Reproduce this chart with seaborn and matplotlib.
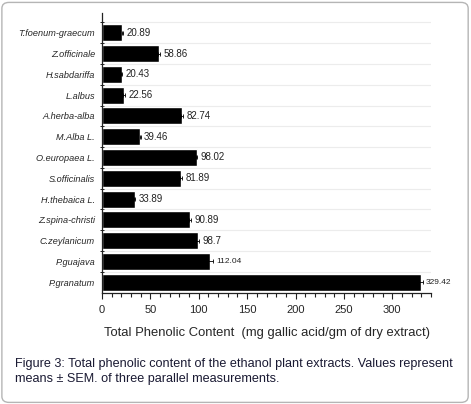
import numpy as np
import matplotlib
matplotlib.use("Agg")
import matplotlib.pyplot as plt
import seaborn as sns
from matplotlib.patches import FancyBboxPatch
from matplotlib.ticker import MultipleLocator

# Plant extracts and their total phenolic content
plants = ["T.foenum-graecum", "Z.officinale", "H.sabdariffa", "L.albus",
          "A.herba-alba", "M.Alba L.", "O.europaea L.", "S.officinalis",
          "H.thebaica L.", "Z.spina-christi", "C.zeylanicum", "P.guajava",
          "P.granatum"]
phenolic = [20.89, 58.86, 20.43, 22.56, 82.74, 39.46, 98.02, 81.89,
            33.89, 90.89, 98.7, 112.04, 329.42]
sem = [0.5, 0.8, 0.4, 1.2, 0.8, 0.5, 0.6, 1.0, 0.5, 1.5, 2.0, 2.5, 2.0]
value_labels = ["20.89", "58.86", "20.43", "22.56", "82.74", "39.46", "98.02",
                "81.89", "33.89", "90.89", "98.7", "112.04", "329.42"]

sns.set_style("white")
plt.rcParams["font.family"] = ["Liberation Sans", "DejaVu Sans"]

fig = plt.figure(figsize=(4.71, 4.04), dpi=100)
ax = fig.add_axes([0.2166, 0.275, 0.6985, 0.693])

sns.barplot(x=phenolic, y=plants, orient="h", color="black", width=0.82,
            errorbar=None, ax=ax, saturation=1)
ypos = np.arange(len(plants))
ax.errorbar(phenolic, ypos, xerr=sem, fmt="none", ecolor="black",
            elinewidth=0.6, capsize=1.5, capthick=0.6)

for y, v, e, lab in zip(ypos, phenolic, sem, value_labels):
    fs = 6.0 if v > 100 else 7.0
    ax.text(v + e + 3.5, y, lab, va="center", ha="left", fontsize=fs, color="#222222")

ax.set_xlim(0, 340)
ax.set_ylim(12.52, -0.96)

# gridlines between categories
ax.set_yticks(np.arange(-0.5, 12, 1), minor=True)
ax.grid(True, which="minor", axis="y", color="#ececec", linewidth=0.8)
ax.grid(False, which="major")
ax.set_axisbelow(True)

ax.set_xticks([0, 50, 100, 150, 200, 250, 300])
ax.xaxis.set_minor_locator(MultipleLocator(10))
ax.tick_params(axis="x", which="major", direction="out", length=4.5, width=0.8,
               labelsize=8, pad=4, bottom=True, color="#222222")
ax.tick_params(axis="x", which="minor", direction="out", length=3, width=0.8,
               bottom=True, color="#222222")
ax.tick_params(axis="y", which="major", length=0, labelsize=6.6, pad=5)
ax.tick_params(axis="y", which="minor", direction="inout", length=3, width=0.7,
               left=True, color="#222222")
for lab in ax.get_yticklabels():
    lab.set_fontstyle("italic")

for s in ["top", "right"]:
    ax.spines[s].set_visible(False)
for s in ["left", "bottom"]:
    ax.spines[s].set_color("#222222")
    ax.spines[s].set_linewidth(0.9)

ax.set_ylabel("")
ax.set_xlabel("Total Phenolic Content  (mg gallic acid/gm of dry extract)",
              fontsize=9.4, labelpad=9)

caption = ("Figure 3: Total phenolic content of the ethanol plant extracts. Values represent\n"
           "means \u00b1 SEM. of three parallel measurements.")
fig.text(0.032, 0.081, caption, fontsize=9.1, color="#1a1a33", ha="left", va="center",
         linespacing=1.3)

border = FancyBboxPatch((0.004, 0.004), 0.99, 0.99, boxstyle="round,pad=0,rounding_size=0.015",
                        transform=fig.transFigure, fill=False, edgecolor="#b5b5b5",
                        linewidth=1.0)
fig.patches.append(border)

fig.savefig("out.png", dpi=100)
